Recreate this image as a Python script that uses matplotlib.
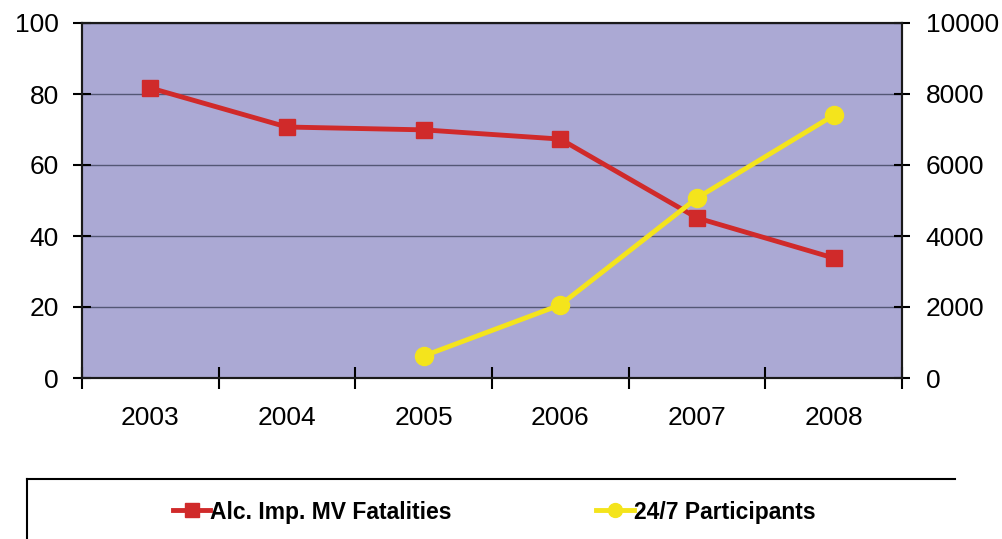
import matplotlib
matplotlib.use("Agg")
import matplotlib.pyplot as plt
from matplotlib.lines import Line2D

plt.rcParams['font.family'] = ['Liberation Sans', 'DejaVu Sans']

years = ['2003', '2004', '2005', '2006', '2007', '2008']
fatalities = [81.7, 70.7, 69.9, 67.3, 45.1, 33.8]
participant_years = ['2005', '2006', '2007', '2008']
participants = [620, 2060, 5070, 7400]

red = '#d02a2a'
yellow = '#f4e41c'

fig = plt.figure(figsize=(10.02, 5.39), dpi=100)
ax = fig.add_axes([82 / 1002, 1 - 378 / 539, 820 / 1002, 355 / 539])
ax.set_facecolor('#aba9d4')

x = list(range(len(years)))
px = [years.index(y) for y in participant_years]

ax.plot(x, fatalities, color=red, lw=3.5, marker='s', ms=11, zorder=3)
ax.set_xlim(-0.5, len(years) - 0.5)
ax.set_ylim(0, 100)
ax.set_yticks([0, 20, 40, 60, 80, 100])
ax.grid(axis='y', color='#545775', lw=1)
ax.set_axisbelow(True)

ax.set_xticks([i - 0.5 for i in range(len(years) + 1)])
ax.set_xticklabels([])
ax.set_xticks(x, minor=True)
ax.set_xticklabels(years, minor=True)
ax.tick_params(axis='x', which='major', direction='inout', length=16, width=1.5)
ax.tick_params(axis='x', which='minor', length=0, pad=20, labelsize=19)
ax.tick_params(axis='y', direction='inout', length=13, width=1.5, pad=10, labelsize=19)

ax2 = ax.twinx()
ax2.plot(px, participants, color=yellow, lw=3.5, marker='o', ms=13, zorder=3)
ax2.set_ylim(0, 10000)
ax2.set_yticks([0, 2000, 4000, 6000, 8000, 10000])
ax2.tick_params(axis='y', direction='inout', length=12, width=1.5, pad=11, labelsize=19)

for a in (ax, ax2):
    for s in a.spines.values():
        s.set_linewidth(1.5)
        s.set_color('#1a1a1a')

# legend box (cut off at bottom of the image)
fig.add_artist(Line2D([27 / 1002, 955 / 1002], [1 - 479 / 539] * 2,
                      transform=fig.transFigure, color='black', lw=1.5))
fig.add_artist(Line2D([27 / 1002] * 2, [1 - 479 / 539, 0],
                      transform=fig.transFigure, color='black', lw=1.5))

h1 = Line2D([], [], color=red, lw=3.5, marker='s', ms=10)
h2 = Line2D([], [], color=yellow, lw=3.5, marker='o', ms=10)
fig.legend([h1, h2], ['Alc. Imp. MV Fatalities', '24/7 Participants'],
           ncol=2, frameon=False, loc='center left',
           bbox_to_anchor=(152 / 1002, 1 - 512 / 539),
           handlelength=1.65, handletextpad=0.0, columnspacing=6.3,
           prop={'size': 16.5, 'weight': 'bold'})

fig.savefig('out.png', dpi=100)
